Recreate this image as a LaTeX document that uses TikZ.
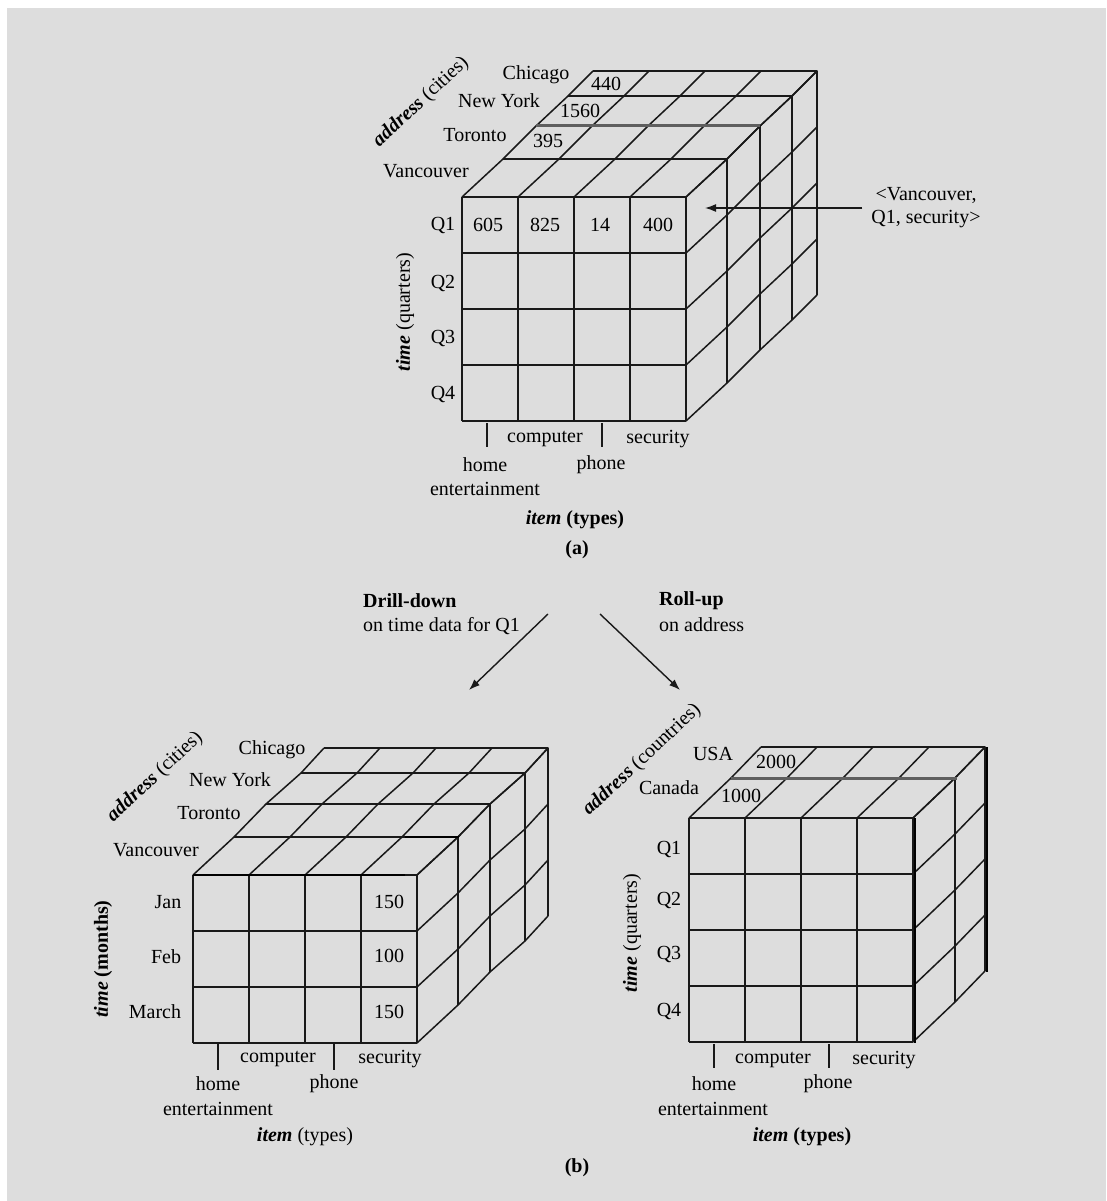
\documentclass[tikz,border=0pt]{standalone}
\usepackage{fontspec}
\setmainfont{Liberation Serif}
\usetikzlibrary{arrows.meta}
\definecolor{bggray}{RGB}{221,221,221}
\definecolor{inkgray}{RGB}{95,95,95}
\tikzset{
  cubeline/.style={line width=1.5pt, line join=round, black!90},
  lbl/.style={font=\fontsize{20}{23}\selectfont, inner sep=0pt},
  boldlbl/.style={lbl, font=\fontsize{20}{23}\selectfont\bfseries},
  pointer/.style={line width=1.4pt, black!90, -{Latex[length=11pt,width=8pt]}},
  tick/.style={line width=1.5pt, black!90},
  heavy/.style={line width=3pt, inkgray},
  heavyblack/.style={line width=2.4pt, black}
}
% #1 x0, #2 y0, #3 columns, #4 rows, #5 depth offsets dx/dy
\newcommand{\olapcube}[5]{%
  \pgfmathsetmacro\cxR{#1+#3*56}%
  \pgfmathsetmacro\cyB{#2+#4*56}%
  \foreach \i in {0,...,#3} \draw[cubeline] (#1+\i*56,#2) -- (#1+\i*56,\cyB);
  \foreach \j in {0,...,#4} \draw[cubeline] (#1,#2+\j*56) -- (\cxR,#2+\j*56);
  \foreach \dx/\dy in {#5} {
    \draw[cubeline] (#1+\dx,#2+\dy) -- (\cxR+\dx,#2+\dy) -- (\cxR+\dx,\cyB+\dy);
  }
  \foreach \i in {0,...,#3} {
    \draw[cubeline] (#1+\i*56,#2) \foreach \dx/\dy in {#5} { -- (#1+\i*56+\dx,#2+\dy) };
  }
  \foreach \j in {0,...,#4} {
    \draw[cubeline] (\cxR,#2+\j*56) \foreach \dx/\dy in {#5} { -- (\cxR+\dx,#2+\j*56+\dy) };
  }
}
\begin{document}
\begin{tikzpicture}[x=1pt,y=-1pt]
\useasboundingbox (0,0) rectangle (1106,1201);
\fill[white] (0,0) rectangle (1106,1201);
\fill[bggray] (7,8) rectangle (1106,1201);

% ---------------- (a) ----------------
\olapcube{462}{197}{4}{4}{41/-38,74/-71,106/-101,131/-126}
\draw[heavy] (536,126) -- (760,126);

\node[lbl] (a-chi) at (536,75) {Chicago};
\node[lbl] (a-440) at (606,84) {440};
\node[lbl] (a-ny) at (499,101) {New York};
\node[lbl] (a-1560) at (580,111) {1560};
\node[lbl] (a-tor) at (475,135) {Toronto};
\node[lbl] (a-395) at (548,141) {395};
\node[lbl] (a-van) at (426,171) {Vancouver};
\node[lbl,rotate=43] (a-addr) at (421,102) {\textbf{\textit{address}} (cities)};

\node[lbl] (a-q1) at (443,225) {Q1};
\node[lbl] (a-q2) at (443,283) {Q2};
\node[lbl] (a-q3) at (443,338) {Q3};
\node[lbl] (a-q4) at (443,394) {Q4};
\node[lbl,rotate=90] (a-time) at (405,312) {\textbf{\textit{time}} (quarters)};

\node[lbl] (a-605) at (488,225) {605};
\node[lbl] (a-825) at (545,225) {825};
\node[lbl] (a-14) at (600,225) {14};
\node[lbl] (a-400) at (658,225) {400};

\draw[tick] (487,423) -- (487,447);
\draw[tick] (602,423) -- (602,447);
\node[lbl] (a-comp) at (545,439) {computer};
\node[lbl] (a-sec) at (658,439) {security};
\node[lbl] (a-home) at (485,465) {home};
\node[lbl] (a-phone) at (601,465) {phone};
\node[lbl] (a-ent) at (485,489) {entertainment};
\node[lbl] (a-item) at (575,520) {\textbf{\textit{item} (types)}};
\node[boldlbl] (a-cap) at (577,550) {(a)};

\node[lbl, align=center, inner xsep=9pt] (a-vqs) at (926,208) {<Vancouver,\\Q1, security>};
\coordinate (a-cell) at (705,208);
\draw[pointer] (a-vqs.west) -- (a-cell);

% ---------------- operations ----------------
\node[boldlbl, anchor=west] (dd-t) at (363,601) {Drill-down};
\node[lbl, anchor=west] (dd-s) at (363,626) {on time data for Q1};
\node[boldlbl, anchor=west] (ru-t) at (659,601) {Roll-up};
\node[lbl, anchor=west] (ru-s) at (659,625) {on address};
\coordinate (dd-a) at (548,614);
\coordinate (dd-b) at (469,690);
\coordinate (ru-a) at (600,614);
\coordinate (ru-b) at (680,690);
\draw[pointer] (dd-a) -- (dd-b);
\draw[pointer] (ru-a) -- (ru-b);

% ---------------- (b) left: drill-down ----------------
\olapcube{193}{875}{4}{3}{41/-38,73/-71,108/-102,131/-127}
\draw[heavyblack] (193,875) -- (405,875);
\draw[heavyblack] (405,837) -- (459,837);

\node[lbl] (l-chi) at (272,750) {Chicago};
\node[lbl] (l-ny) at (230,780) {New York};
\node[lbl] (l-tor) at (209,813) {Toronto};
\node[lbl] (l-van) at (156,850) {Vancouver};
\node[lbl,rotate=43] (l-addr) at (155,777) {\textbf{\textit{address}} (cities)};

\node[lbl] (l-jan) at (168,902) {Jan};
\node[lbl] (l-feb) at (166,957) {Feb};
\node[lbl] (l-mar) at (155,1012) {March};
\node[lbl,rotate=90] (l-time) at (103,959) {\textbf{\textit{time} (months)}};

\node[lbl] (l-150a) at (389,902) {150};
\node[lbl] (l-100) at (389,956) {100};
\node[lbl] (l-150b) at (389,1012) {150};

\draw[tick] (218,1044) -- (218,1070);
\draw[tick] (334,1044) -- (334,1070);
\node[lbl] (l-comp) at (278,1059) {computer};
\node[lbl] (l-sec) at (390,1059) {security};
\node[lbl] (l-home) at (218,1084) {home};
\node[lbl] (l-phone) at (334,1084) {phone};
\node[lbl] (l-ent) at (218,1109) {entertainment};
\node[lbl] (l-item) at (305,1137) {\textbf{\textit{item}} (types)};

% ---------------- (b) right: roll-up ----------------
\olapcube{689}{818}{4}{4}{42/-40,72/-71}
\draw[heavy] (731,778) -- (957,778);
\draw[heavyblack] (915,818) -- (915,1043);
\draw[heavyblack] (987,747) -- (987,972);

\node[lbl] (r-usa) at (713,754) {USA};
\node[lbl] (r-2000) at (776,762) {2000};
\node[lbl] (r-can) at (669,788) {Canada};
\node[lbl] (r-1000) at (741,796) {1000};
\node[lbl,rotate=43] (r-addr) at (642,760) {\textbf{\textit{address}} (countries)};

\node[lbl] (r-q1) at (669,849) {Q1};
\node[lbl] (r-q2) at (669,900) {Q2};
\node[lbl] (r-q3) at (669,954) {Q3};
\node[lbl] (r-q4) at (669,1011) {Q4};
\node[lbl,rotate=90] (r-time) at (632,933) {\textbf{\textit{time}} (quarters)};

\draw[tick] (714,1044) -- (714,1068);
\draw[tick] (829,1044) -- (829,1068);
\node[lbl] (r-comp) at (773,1060) {computer};
\node[lbl] (r-sec) at (884,1060) {security};
\node[lbl] (r-home) at (714,1084) {home};
\node[lbl] (r-phone) at (828,1084) {phone};
\node[lbl] (r-ent) at (713,1109) {entertainment};
\node[lbl] (r-item) at (802,1137) {\textbf{\textit{item} (types)}};

\node[boldlbl] (b-cap) at (577,1168) {(b)};
\end{tikzpicture}
\end{document}
